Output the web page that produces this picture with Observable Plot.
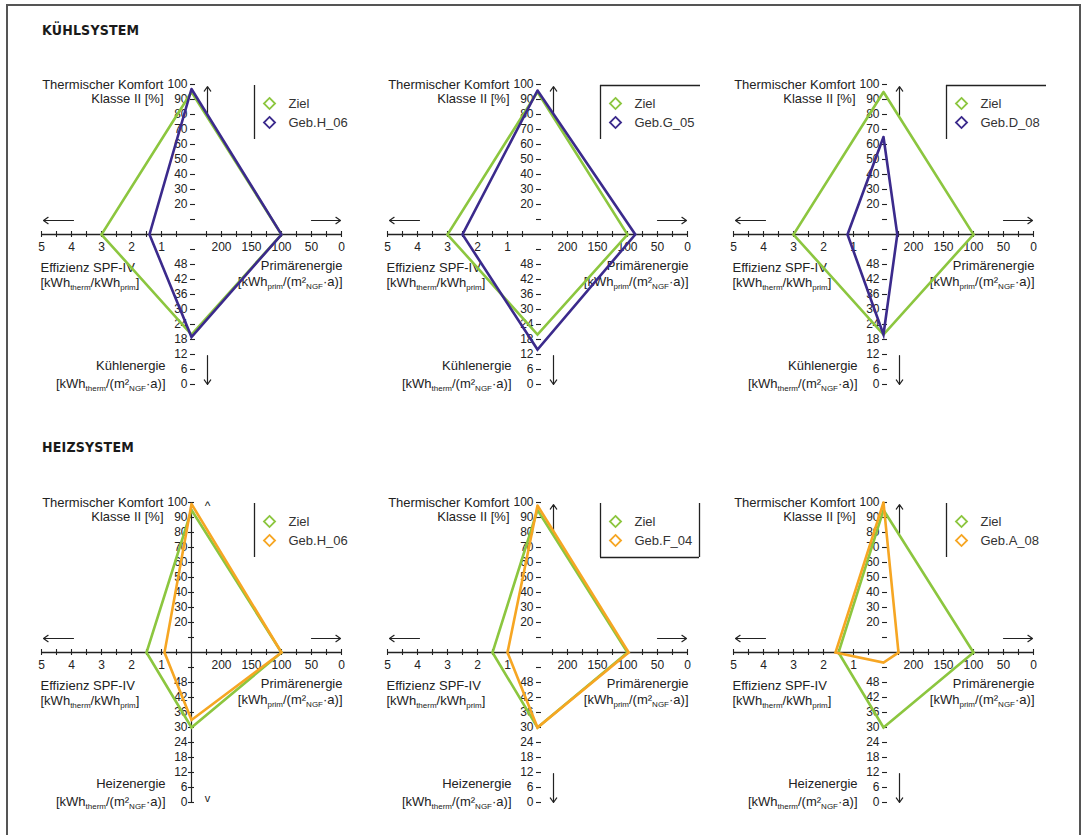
<!DOCTYPE html>
<html>
<head>
<meta charset="utf-8">
<script src="https://cdn.jsdelivr.net/npm/d3@7"></script>
<script src="https://cdn.jsdelivr.net/npm/@observablehq/plot@0.6"></script>
<style>
  html, body { margin: 0; padding: 0; background: #fff; overflow: hidden; }
  #page { position: relative; width: 1086px; height: 835px; background: #fff;
          font-family: "Liberation Sans", Arial, sans-serif; color: #222; }
  #frame { position: absolute; left: 6px; top: 4px; width: 1075px; height: 900px;
           border: 2px solid #555; border-bottom: none; box-sizing: border-box; }
  .section { position: absolute; left: 42px; font-weight: bold; font-size: 14px;
             font-family: "Liberation Sans Narrow", "DejaVu Sans Condensed", sans-serif;
             color: #1a1a1a; letter-spacing: 0.2px; }
  .panel { position: absolute; }
</style>
</head>
<body>
<div id="page">
  <div id="frame"></div>
  <div class="section" style="top:22px">KÜHLSYSTEM</div>
  <div class="section" style="top:439px">HEIZSYSTEM</div>
</div>
<script>
// ---- Data -----------------------------------------------------------------
// Each profile: [Thermischer Komfort %, Primärenergie, Kühl-/Heizenergie, Effizienz SPF-IV]
const zielKuehl = [95, 100, 20, 3.0];
const kuehlGebH06 = [97, 100, 19, 1.4];
const kuehlGebG05 = [96, 87, 14, 2.5];
const kuehlGebD08 = [65, 227, 20, 1.2];

const zielHeiz = [95, 100, 30, 1.5];
const heizGebH06 = [99, 100, 33, 0.9];
const heizGebF04 = [98, 98, 30, 1.0];
const heizGebA08 = [100, 225, 56, 1.6];

const kuehlBuildings = ["Geb.H_06", "Geb.G_05", "Geb.D_08"];
const heizBuildings = ["Geb.H_06", "Geb.F_04", "Geb.A_08"];
const zielLabel = "Ziel";

// Axis ticks (labelled and unlabelled)
const komfortTicks = [10, 20, 30, 40, 50, 60, 70, 80, 90, 100];
const komfortLabels = [20, 30, 40, 50, 60, 70, 80, 90, 100];
const spfTicks = [0.5, 1, 1.5, 2, 2.5, 3, 3.5, 4, 4.5, 5];
const spfLabels = [1, 2, 3, 4, 5];
const primTicks = [225, 200, 175, 150, 125, 100, 75, 50, 25, 0];
const primLabels = [200, 150, 100, 50, 0];
const energieTicks = [54, 48, 42, 36, 30, 24, 18, 12, 6, 0];
const energieLabels = [48, 42, 36, 30, 24, 18, 12, 6, 0];

// ---- Axis definitions: value -> normalised distance from the centre ---------
const KOMFORT_MAX = 100, PRIM_MAX = 250, ENERGIE_MAX = 60, SPF_MAX = 5;
const rKomfort = v => v / KOMFORT_MAX;                 // up
const rPrim = v => (PRIM_MAX - v) / PRIM_MAX;          // right, 0 outermost
const rEnergie = v => (ENERGIE_MAX - v) / ENERGIE_MAX; // down, 0 outermost
const rSpf = v => v / SPF_MAX;                         // left

// Closed diamond: Komfort -> Primärenergie -> Energie -> SPF -> Komfort
function profile([komfort, prim, energie, spf]) {
  return [
    {x: 0, y: rKomfort(komfort)},
    {x: rPrim(prim), y: 0},
    {x: 0, y: -rEnergie(energie)},
    {x: -rSpf(spf), y: 0},
    {x: 0, y: rKomfort(komfort)}
  ];
}

// ---- Layout ----------------------------------------------------------------
const R = 150;                    // pixels per half axis
const W = 346, H = 356, CX = 173, CY = 170;
const u = p => p / R;             // pixel offset -> plot units
const colCenters = [191, 537, 883];
const rowCenters = [234, 652];

const ink = "#222";
const green = "#8cc63f";
const purple = "#3b2a8c";
const orange = "#f6a623";
const font = "Liberation Sans, Arial, sans-serif";

const panels = [
  {row: 0, col: 0, ziel: zielKuehl, values: kuehlGebH06, name: kuehlBuildings[0], color: purple, energie: "Kühlenergie", legend: ["left"], vline: false},
  {row: 0, col: 1, ziel: zielKuehl, values: kuehlGebG05, name: kuehlBuildings[1], color: purple, energie: "Kühlenergie", legend: ["left", "top"], vline: false},
  {row: 0, col: 2, ziel: zielKuehl, values: kuehlGebD08, name: kuehlBuildings[2], color: purple, energie: "Kühlenergie", legend: ["left", "top"], vline: false},
  {row: 1, col: 0, ziel: zielHeiz, values: heizGebH06, name: heizBuildings[0], color: orange, energie: "Heizenergie", legend: ["left"], vline: true},
  {row: 1, col: 1, ziel: zielHeiz, values: heizGebF04, name: heizBuildings[1], color: orange, energie: "Heizenergie", legend: ["left", "right", "bottom"], vline: false},
  {row: 1, col: 2, ziel: zielHeiz, values: heizGebA08, name: heizBuildings[2], color: orange, energie: "Heizenergie", legend: ["left"], vline: false}
];

function panelPlot(p) {
  const txt = (data, opts) => Plot.text(data, {text: d => String(d), fill: ink, fontSize: 12, ...opts});
  const marks = [];

  // horizontal axis with crossing ticks
  marks.push(Plot.ruleY([0], {x1: -1, x2: 1, stroke: ink, strokeWidth: 1.3}));
  marks.push(Plot.ruleX(spfTicks, {x: d => -rSpf(d), y1: -u(3), y2: u(3), stroke: ink, strokeWidth: 1.1}));
  marks.push(Plot.ruleX(primTicks, {x: d => rPrim(d), y1: -u(3), y2: u(3), stroke: ink, strokeWidth: 1.1}));
  marks.push(txt(spfLabels, {x: d => -rSpf(d), y: 0, dy: 13}));
  marks.push(txt(primLabels, {x: d => rPrim(d), y: 0, dy: 13}));

  // vertical axis: short dashes (crossing ticks and a line where drawn)
  if (p.vline) marks.push(Plot.ruleX([0], {y1: -1, y2: 1, stroke: ink, strokeWidth: 1.2}));
  const t0 = p.vline ? -u(3) : -u(1), t1 = p.vline ? u(3) : u(4);
  marks.push(Plot.ruleY(komfortTicks, {y: d => rKomfort(d), x1: t0, x2: t1, stroke: ink, strokeWidth: 1.1}));
  marks.push(Plot.ruleY(energieTicks, {y: d => -rEnergie(d), x1: t0, x2: t1, stroke: ink, strokeWidth: 1.1}));
  marks.push(txt(komfortLabels, {x: 0, y: d => rKomfort(d), dx: -4, textAnchor: "end"}));
  marks.push(txt(energieLabels, {x: 0, y: d => -rEnergie(d), dx: -4, textAnchor: "end"}));

  // direction arrows
  const arrowOpts = {stroke: ink, strokeWidth: 1.2, headLength: 7, headAngle: 70};
  marks.push(Plot.arrow([{x1: -u(118), x2: -u(148), y: u(14)}], {x1: "x1", x2: "x2", y1: "y", y2: "y", ...arrowOpts}));
  marks.push(Plot.arrow([{x1: u(120), x2: u(149), y: u(14)}], {x1: "x1", x2: "x2", y1: "y", y2: "y", ...arrowOpts}));
  if (p.vline) {
    marks.push(txt(["^"], {x: u(16), y: u(146), fontSize: 12}));
    marks.push(txt(["v"], {x: u(16), y: -u(146), fontSize: 11}));
  } else {
    marks.push(Plot.arrow([{x: u(16), y1: u(119), y2: u(148)}], {x1: "x", x2: "x", y1: "y1", y2: "y2", ...arrowOpts}));
    marks.push(Plot.arrow([{x: u(16), y1: -u(121), y2: -u(150)}], {x1: "x", x2: "x", y1: "y1", y2: "y2", ...arrowOpts}));
  }

  // axis titles
  marks.push(txt(["Thermischer Komfort"], {x: 0, y: 1, dx: -28, textAnchor: "end", fontSize: 13}));
  marks.push(txt(["Klasse II [%]"], {x: 0, y: 1, dx: -28, dy: 14, textAnchor: "end", fontSize: 13}));
  marks.push(txt(["Effizienz SPF-IV"], {x: -1, y: 0, dx: -1, dy: 33, textAnchor: "start", fontSize: 13}));
  marks.push(txt(["[kWh_{therm}/kWh_{prim}]"], {x: -1, y: 0, dx: -1, dy: 48, textAnchor: "start", fontSize: 13}));
  marks.push(txt(["Primärenergie"], {x: 1, y: 0, dx: 1, dy: 31, textAnchor: "end", fontSize: 13}));
  marks.push(txt(["[kWh_{prim}/(m²_{NGF}·a)]"], {x: 1, y: 0, dx: 1, dy: 47, textAnchor: "end", fontSize: 13}));
  marks.push(txt([p.energie], {x: 0, y: -1, dx: -26, dy: -19, textAnchor: "end", fontSize: 13}));
  marks.push(txt(["[kWh_{therm}/(m²_{NGF}·a)]"], {x: 0, y: -1, dx: -26, dy: -1, textAnchor: "end", fontSize: 13}));

  // profiles: target first, building on top
  const lineOpts = {x: "x", y: "y", strokeWidth: 2.6, strokeLinejoin: "miter", strokeMiterlimit: 10};
  marks.push(Plot.line(profile(p.ziel), {...lineOpts, stroke: green}));
  marks.push(Plot.line(profile(p.values), {...lineOpts, stroke: p.color}));

  // legend
  const lx = u(63), lr = u(163), lt = u(149), lb = u(95);
  if (p.legend.includes("left")) marks.push(Plot.ruleX([lx], {y1: lb, y2: lt, stroke: ink, strokeWidth: 1.3}));
  if (p.legend.includes("right")) marks.push(Plot.ruleX([u(162)], {y1: lb, y2: lt, stroke: ink, strokeWidth: 1.3}));
  if (p.legend.includes("top")) marks.push(Plot.ruleY([lt], {x1: lx, x2: lr, stroke: ink, strokeWidth: 1.3}));
  if (p.legend.includes("bottom")) marks.push(Plot.ruleY([lb], {x1: lx, x2: u(162), stroke: ink, strokeWidth: 1.3}));
  const items = [{label: zielLabel, color: green}, {label: p.name, color: p.color}];
  items.forEach((it, i) => {
    const y = u(131 - 19 * i);
    marks.push(Plot.dot([it], {x: u(78), y, symbol: "diamond2", r: 5, stroke: it.color, strokeWidth: 1.8, fill: "none"}));
    marks.push(Plot.text([it], {x: u(97), y, text: "label", textAnchor: "start", fill: "#333", fontSize: 13}));
  });

  return Plot.plot({
    width: W, height: H, margin: 0,
    x: {domain: [-u(CX), u(W - CX)], axis: null},
    y: {domain: [-u(H - CY), u(CY)], axis: null},
    style: {background: "transparent", overflow: "visible", fontFamily: font, fontSize: "12px"},
    marks
  });
}

// Turn "_{...}" fragments into lowered, smaller tspans
function applySubscripts(svg) {
  const NS = "http://www.w3.org/2000/svg";
  svg.querySelectorAll("text").forEach(t => {
    const s = t.textContent;
    if (!s.includes("_{")) return;
    t.textContent = "";
    let lowered = false;
    for (const part of s.split(/(_\{[^}]*\})/)) {
      if (!part) continue;
      const ts = document.createElementNS(NS, "tspan");
      if (part.startsWith("_{")) {
        ts.textContent = part.slice(2, -1);
        ts.setAttribute("font-size", "8");
        if (!lowered) ts.setAttribute("dy", "3");
        lowered = true;
      } else {
        ts.textContent = part;
        if (lowered) ts.setAttribute("dy", "-3");
        lowered = false;
      }
      t.appendChild(ts);
    }
  });
}

const page = document.getElementById("page");
for (const p of panels) {
  const svg = panelPlot(p);
  applySubscripts(svg);
  const div = document.createElement("div");
  div.className = "panel";
  div.style.left = (colCenters[p.col] - CX) + "px";
  div.style.top = (rowCenters[p.row] - CY) + "px";
  div.appendChild(svg);
  page.appendChild(div);
}
</script>
</body>
</html>
